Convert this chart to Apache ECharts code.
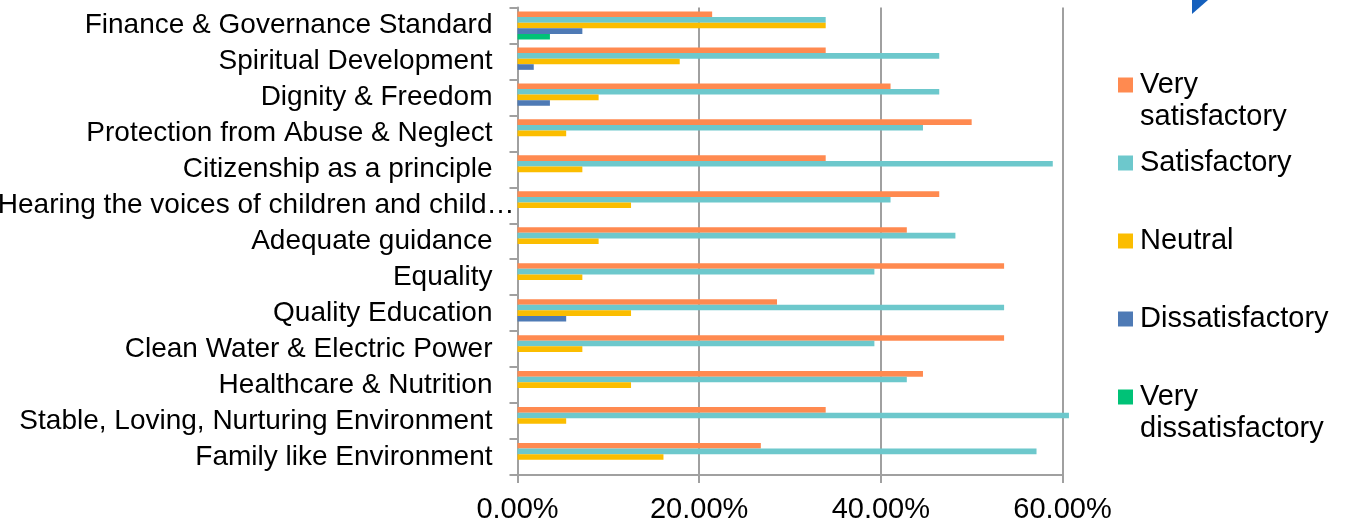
<!DOCTYPE html>
<html>
<head>
<meta charset="utf-8">
<script src="https://cdn.jsdelivr.net/npm/echarts@6/dist/echarts.min.js"></script>
<style>
  html, body { margin: 0; padding: 0; background: #fff; }
  #chart { width: 1345px; height: 527px; }
</style>
</head>
<body>
<div id="chart"></div>
<script>
// categories listed bottom to top (category axis order)
var categories = [
  'Family like Environment',
  'Stable, Loving, Nurturing Environment',
  'Healthcare & Nutrition',
  'Clean Water & Electric Power',
  'Quality Education',
  'Equality',
  'Adequate guidance',
  'Hearing the voices of children and child\u2026',
  'Citizenship as a principle',
  'Protection from Abuse & Neglect',
  'Dignity & Freedom',
  'Spiritual Development',
  'Finance & Governance Standard'
];

var verySatisfactory    = [26.79, 33.93, 44.64, 53.57, 28.57, 53.57, 42.86, 46.43, 33.93, 50.00, 41.07, 33.93, 21.43];
var satisfactory        = [57.14, 60.71, 42.86, 39.29, 53.57, 39.29, 48.21, 41.07, 58.93, 44.64, 46.43, 46.43, 33.93];
var neutral             = [16.07, 5.36, 12.50, 7.14, 12.50, 7.14, 8.93, 12.50, 7.14, 5.36, 8.93, 17.86, 33.93];
var dissatisfactory     = [0, 0, 0, 0, 5.36, 0, 0, 0, 0, 0, 3.57, 1.79, 7.14];
var veryDissatisfactory = [0, 0, 0, 0, 0, 0, 0, 0, 0, 0, 0, 0, 3.57];

var xTicks = [0, 20, 40, 60];

var FONT = 'Liberation Sans, Arial, sans-serif';
var AXIS_GRAY = '#a0a0a0';

var seriesDefs = [
  { name: 'Very satisfactory', data: verySatisfactory, color: '#ff8a50', label: '\nVery\nsatisfactory', top: 37 },
  { name: 'Satisfactory', data: satisfactory, color: '#6dc8cc', label: 'Satisfactory', top: 147 },
  { name: 'Neutral', data: neutral, color: '#fbbd00', label: 'Neutral', top: 225 },
  { name: 'Dissatisfactory', data: dissatisfactory, color: '#4e7ab5', label: 'Dissatisfactory', top: 303 },
  { name: 'Very dissatisfactory', data: veryDissatisfactory, color: '#00c277', label: '\nVery\ndissatisfactory', top: 349 }
];

var chart = echarts.init(document.getElementById('chart'));

var series = seriesDefs.map(function (s) {
  return {
    name: s.name,
    type: 'bar',
    data: s.data,
    barWidth: 5.6,
    barGap: '0%',
    clip: false,
    itemStyle: { color: s.color },
    emphasis: { disabled: true }
  };
});

// one legend per item so the two-line labels line up like the original
var legends = seriesDefs.map(function (s) {
  return {
    data: [s.name],
    orient: 'vertical',
    left: 1118,
    top: s.top,
    padding: 0,
    itemWidth: 15,
    itemHeight: 15,
    itemGap: 0,
    icon: 'rect',
    selectedMode: false,
    formatter: function () { return s.label; },
    textStyle: { fontFamily: FONT, fontSize: 29, lineHeight: 32, color: '#000', padding: [0, 0, 0, 2] }
  };
});

var option = {
  animation: false,
  legend: legends,
  grid: { left: 517.5, right: 282.5, top: 7.5, bottom: 52, containLabel: false, outerBoundsMode: 'none' },
  xAxis: {
    type: 'value',
    min: xTicks[0],
    max: xTicks[xTicks.length - 1],
    interval: 20,
    axisLine: { show: true, lineStyle: { color: AXIS_GRAY, width: 2 } },
    axisTick: { show: true, length: 8, lineStyle: { color: AXIS_GRAY, width: 2 } },
    splitLine: { show: true, lineStyle: { color: AXIS_GRAY, width: 2 } },
    axisLabel: {
      margin: 20,
      color: '#000',
      fontFamily: FONT,
      fontSize: 29,
      formatter: function (v) { return v.toFixed(2) + '%'; }
    }
  },
  yAxis: {
    type: 'category',
    data: categories,
    axisLine: { show: true, lineStyle: { color: AXIS_GRAY, width: 2 } },
    axisTick: { show: true, length: 8, lineStyle: { color: AXIS_GRAY, width: 2 } },
    axisLabel: {
      margin: 25, color: '#000', fontFamily: FONT, fontSize: 28, interval: 0,
      // the cut-off label lets its ellipsis run past the label edge, as in the original
      formatter: function (v) {
        if (v.charAt(v.length - 1) === '\u2026') {
          return '{t|' + v.slice(0, -1) + '}{e|\u2026}';
        }
        return v;
      },
      rich: {
        t: { fontFamily: FONT, fontSize: 28, color: '#000' },
        e: { fontFamily: FONT, fontSize: 28, color: '#000', padding: [0, -22, 0, 0] }
      }
    }
  },
  graphic: [{
    type: 'polygon',
    shape: { points: [[1192, 0], [1208, 0], [1192, 14]] },
    style: { fill: '#1560bd' }
  }],
  series: series
};

chart.setOption(option);
</script>
</body>
</html>
